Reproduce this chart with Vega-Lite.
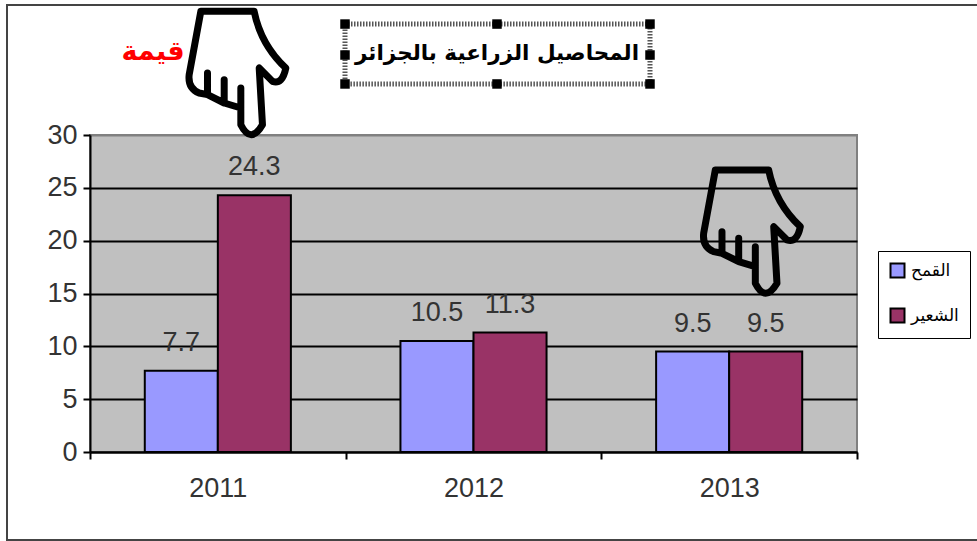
{
"$schema":"https://vega.github.io/schema/vega-lite/v6.json",
"width":767,"height":317,"autosize":"none",
"padding":{"left":90,"top":135,"right":120,"bottom":89},
"background":"white",
"view":{"fill":"#C0C0C0","stroke":"#808080","strokeWidth":2},
"datasets":{
"bars":[
{"year":"2011","crop":"القمح","value":7.7},{"year":"2011","crop":"الشعير","value":24.3},
{"year":"2012","crop":"القمح","value":10.5},{"year":"2012","crop":"الشعير","value":11.3},
{"year":"2013","crop":"القمح","value":9.5},{"year":"2013","crop":"الشعير","value":9.5}],
"hands":[{"px":147.5,"py":35.96},{"px":662,"py":20.95}],
"handles":[{"px":255,"py":40.5},{"px":407,"py":40.5},{"px":560,"py":40.5},{"px":255,"py":37.57},{"px":560,"py":37.57},{"px":255,"py":34.83},{"px":407,"py":34.83},{"px":560,"py":34.83}]
},
"resolve":{"scale":{"x":"independent"},"axis":{"x":"independent"}},
"layer":[
{"data":{"name":"bars"},
"mark":{"type":"bar","stroke":"black","strokeWidth":2},
"encoding":{
"x":{"field":"year","type":"nominal","scale":{"paddingInner":0,"paddingOuter":0},
"axis":{"title":null,"labelAngle":0,"tickBand":"extent","tickSize":7,"tickWidth":2,"tickColor":"black","domainColor":"black","domainWidth":2,"labelFont":"Liberation Sans","labelFontSize":27,"labelColor":"#333","labelPadding":16,"grid":false}},
"xOffset":{"field":"crop","type":"nominal","scale":{"domain":["القمح","الشعير"],"paddingInner":0,"paddingOuter":0.75}},
"y":{"field":"value","type":"quantitative","scale":{"domain":[0,30],"nice":false},
"axis":{"title":null,"values":[0,5,10,15,20,25,30],"tickSize":7,"tickWidth":2,"tickColor":"black","domainColor":"black","domainWidth":2,"labelFont":"Liberation Sans","labelFontSize":27,"labelColor":"#333","labelPadding":6,"grid":true,"gridWidth":2,"gridOpacity":1,"gridColor":{"condition":{"test":"datum.value==30","value":"#808080"},"value":"black"}}},
"fill":{"field":"crop","type":"nominal","scale":{"domain":["القمح","الشعير"],"range":["#9999FF","#993366"]},
"legend":{"title":null,"orient":"none","legendX":788,"legendY":116,"symbolType":"square","symbolSize":196,"symbolStrokeColor":"black","symbolStrokeWidth":2,"labelFont":"DejaVu Sans","labelFontSize":17,"labelColor":"black","rowPadding":22,"padding":11,"strokeColor":"black","fillColor":"white","labelOffset":5}}
}},
{"data":{"name":"bars"},
"mark":{"type":"text","dy":-28,"font":"Liberation Sans","fontSize":27,"color":"#333","baseline":"middle"},
"encoding":{
"x":{"field":"year","type":"nominal","scale":{"paddingInner":0,"paddingOuter":0},"axis":null},
"xOffset":{"field":"crop","type":"nominal","scale":{"domain":["القمح","الشعير"],"paddingInner":0,"paddingOuter":0.75}},
"y":{"field":"value","type":"quantitative"},
"text":{"field":"value","type":"quantitative","format":".1f"}
}},
{"data":{"values":[{"x0":-83,"x1":900,"y0":-8.33,"y1":42.3}]},
"mark":{"type":"rect","fillOpacity":0,"stroke":"#444","strokeWidth":2,"clip":false},
"encoding":{
"x":{"field":"x0","type":"quantitative","scale":{"domain":[0,767],"nice":false,"zero":false},"axis":null},
"x2":{"field":"x1"},
"y":{"field":"y0","type":"quantitative"},"y2":{"field":"y1"}
}},
{"data":{"name":"hands"},
"mark":{"type":"point","filled":false,"clip":false,"stroke":"black","strokeWidth":7,"strokeJoin":"round","strokeCap":"round","opacity":1,"size":16384,
"shape":"M-0.573 -0.948 L0.26 -0.948 Q0.365 -0.427 0.755 -0.0625 Q0.703 0.198 0.547 0.146 L0.339 -0.0625 L0.39 0.823 Q0.208 1.135 0.052 0.823 L0.052 0.25 L0.052 0.5625 L-0.208 0.484 L-0.208 0.12 L-0.208 0.484 L-0.469 0.354 L-0.469 0.0156 L-0.469 0.354 L-0.6 0.328 Q-0.78 0.25 -0.755 0.04 Z"},
"encoding":{
"x":{"field":"px","type":"quantitative","scale":{"domain":[0,767],"nice":false,"zero":false},"axis":null},
"y":{"field":"py","type":"quantitative"}
}},
{"data":{"values":[{"x0":255,"x1":560,"y0":34.83,"y1":40.5}]},
"mark":{"type":"rect","fillOpacity":0,"stroke":"#555","strokeWidth":5,"strokeDash":[1.5,1.5],"clip":false},
"encoding":{
"x":{"field":"x0","type":"quantitative","scale":{"domain":[0,767],"nice":false,"zero":false},"axis":null},
"x2":{"field":"x1"},
"y":{"field":"y0","type":"quantitative"},"y2":{"field":"y1"}
}},
{"data":{"name":"handles"},
"mark":{"type":"point","shape":"square","filled":true,"color":"black","size":90,"opacity":1,"clip":false},
"encoding":{
"x":{"field":"px","type":"quantitative","scale":{"domain":[0,767],"nice":false,"zero":false},"axis":null},
"y":{"field":"py","type":"quantitative"}
}},
{"data":{"values":[{"px":407,"py":37.67,"t":"المحاصيل الزراعية بالجزائر"}]},
"mark":{"type":"text","font":"DejaVu Sans","fontSize":21.5,"fontWeight":"bold","color":"black","baseline":"middle","clip":false},
"encoding":{
"x":{"field":"px","type":"quantitative","scale":{"domain":[0,767],"nice":false,"zero":false},"axis":null},
"y":{"field":"py","type":"quantitative"},
"text":{"field":"t"}
}},
{"data":{"values":[{"px":63,"py":37.85,"t":"قيمة"}]},
"mark":{"type":"text","font":"DejaVu Sans","fontSize":27,"fontWeight":"bold","color":"#FF0000","baseline":"middle","clip":false},
"encoding":{
"x":{"field":"px","type":"quantitative","scale":{"domain":[0,767],"nice":false,"zero":false},"axis":null},
"y":{"field":"py","type":"quantitative"},
"text":{"field":"t"}
}}
]
}
